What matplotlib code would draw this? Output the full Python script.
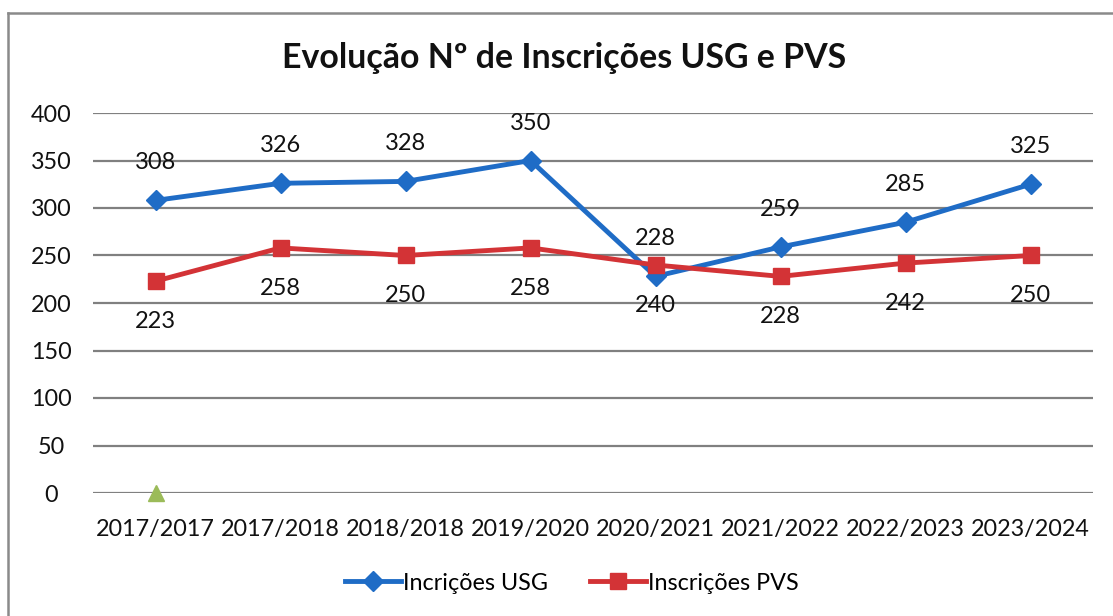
import matplotlib
matplotlib.use("Agg")
import matplotlib.pyplot as plt
from matplotlib.lines import Line2D

# Data
anos = ["2017/2017", "2017/2018", "2018/2018", "2019/2020",
        "2020/2021", "2021/2022", "2022/2023", "2023/2024"]
usg = [308, 326, 328, 350, 228, 259, 285, 325]
pvs = [223, 258, 250, 258, 240, 228, 242, 250]
usg_rotulos = [308, 326, 328, 350, 228, 259, 285, 325]
pvs_rotulos = [223, 258, 250, 258, 240, 228, 242, 250]
extra = [0]
y_ticks = [0, 50, 100, 150, 200, 250, 300, 350, 400]

AZUL = "#1f6cc6"
VERMELHO = "#d33336"
VERDE = "#9bbb59"
FONTE = "Lato"
TXT = "#111111"

plt.rcParams["font.family"] = [FONTE, "DejaVu Sans"]

fig = plt.figure(figsize=(11.13, 6.16), dpi=100)
ax = fig.add_axes([93 / 1113, 1 - 493 / 616, 1000 / 1113, 380 / 616])

x = list(range(len(anos)))

ax.plot(x, usg, color=AZUL, lw=3.5, marker="D", ms=10, mfc=AZUL, mec=AZUL,
        zorder=4, label="Incrições USG")
ax.plot(x, pvs, color=VERMELHO, lw=3.5, marker="s", ms=12, mfc=VERMELHO,
        mec=VERMELHO, zorder=4, label="Inscrições PVS")
ax.plot([0], extra, linestyle="none", marker="^", ms=11, color=VERDE,
        zorder=5, clip_on=False)

for xi, yi, lab in zip(x, usg, usg_rotulos):
    ax.annotate(str(lab), (xi, yi), xytext=(0, 27), textcoords="offset points",
                ha="center", va="center", fontsize=17, color=TXT)
for xi, yi, lab in zip(x, pvs, pvs_rotulos):
    ax.annotate(str(lab), (xi, yi), xytext=(0, -29), textcoords="offset points",
                ha="center", va="center", fontsize=17, color=TXT)

ax.set_xlim(-0.5, len(anos) - 0.5)
ax.set_ylim(0, 400)
ax.set_yticks(y_ticks)
ax.set_xticks(x)
ax.set_xticklabels(anos)
ax.tick_params(axis="both", length=0, labelsize=16.8, colors=TXT)
ax.tick_params(axis="y", pad=30)
ax.tick_params(axis="x", pad=19)
for lbl in ax.get_yticklabels():
    lbl.set_horizontalalignment("center")
ax.yaxis.grid(True, color="#808080", lw=1.6)
ax.set_axisbelow(True)
for s in ax.spines.values():
    s.set_visible(False)

fig.text(0.5 + 8 / 1113, 1 - 58 / 616, "Evolução Nº de Inscrições USG e PVS",
         ha="center", va="center", fontsize=24.4, fontweight="bold",
         color=TXT)

handles = [
    Line2D([], [], color=AZUL, lw=3.5, marker="D", ms=10),
    Line2D([], [], color=VERMELHO, lw=3.5, marker="s", ms=12),
]
fig.legend(handles, ["Incrições USG", "Inscrições PVS"], loc="center",
           bbox_to_anchor=(572 / 1113, 1 - 583 / 616), ncol=2, frameon=False,
           fontsize=16.8, handlelength=2.4, handletextpad=0.1, columnspacing=1.8)

# Chart frame (left and top edges)
fig.add_artist(Line2D([8 / 1113, 8 / 1113], [0, 1 - 13 / 616],
                      transform=fig.transFigure, color="#8a8a8a", lw=1.8))
fig.add_artist(Line2D([8 / 1113, 1], [1 - 13 / 616, 1 - 13 / 616],
                      transform=fig.transFigure, color="#8a8a8a", lw=1.8))

fig.savefig("out.png", dpi=100, facecolor="white")
